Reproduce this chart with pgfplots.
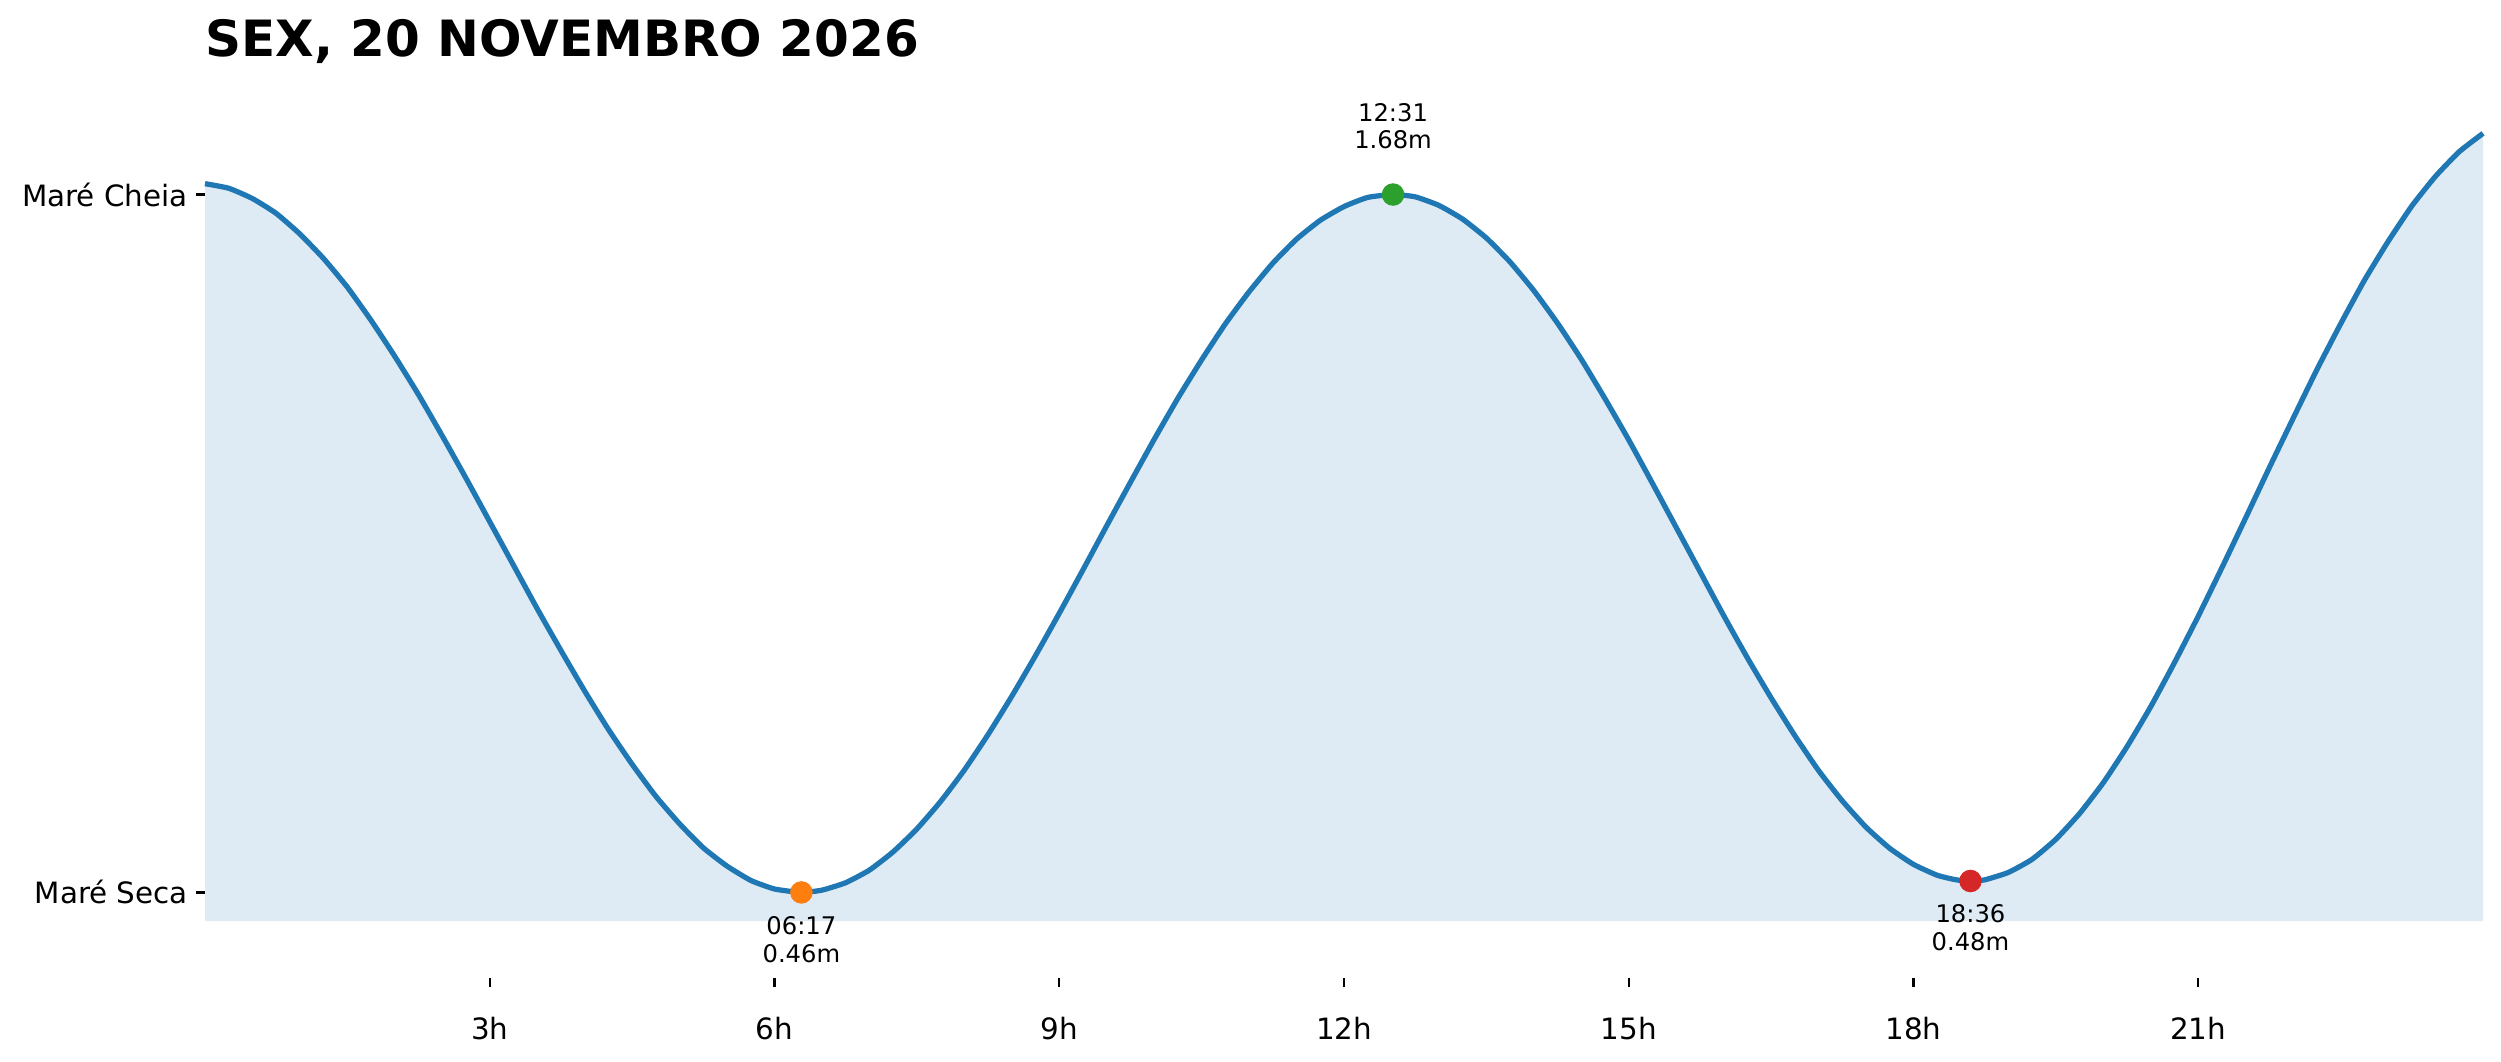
\documentclass[border=0pt]{standalone}
\usepackage{fontspec}
\setmainfont{DejaVu Sans}
\usepackage{pgfplots}
\pgfplotsset{compat=1.18}
\usepackage{pgfplotstable}
\usepgfplotslibrary{fillbetween}
\definecolor{tabblue}{HTML}{1F77B4}
\definecolor{taborange}{HTML}{FF7F0E}
\definecolor{tabgreen}{HTML}{2CA02C}
\definecolor{tabred}{HTML}{D62728}
\newcommand{\annfont}{\fontsize{9.7}{11}\selectfont}
\newcommand{\tickfont}{\fontsize{11.75}{13}\selectfont}
\newcommand{\titlefont}{\fontsize{20}{24}\selectfont\bfseries}

\pgfplotstableread{
t v
0 1.699
0.25 1.691
0.5 1.673
0.75 1.647
1 1.611
1.25 1.568
1.5 1.518
1.75 1.460
2 1.397
2.25 1.330
2.5 1.258
2.75 1.184
3 1.108
3.25 1.032
3.5 0.956
3.75 0.883
4 0.812
4.25 0.745
4.5 0.684
4.75 0.628
5 0.580
5.25 0.538
5.5 0.506
5.75 0.481
6 0.466
6.2833 0.460
6.5 0.464
6.75 0.477
7 0.499
7.25 0.531
7.5 0.571
7.75 0.619
8 0.674
8.25 0.736
8.5 0.803
8.75 0.874
9 0.948
9.25 1.024
9.5 1.101
9.75 1.177
10 1.252
10.25 1.324
10.5 1.391
10.75 1.454
11 1.510
11.25 1.560
11.5 1.602
11.75 1.635
12 1.659
12.25 1.675
12.5167 1.680
12.75 1.676
13 1.661
13.25 1.637
13.5 1.604
13.75 1.562
14 1.512
14.25 1.455
14.5 1.392
14.75 1.323
15 1.251
15.25 1.175
15.5 1.098
15.75 1.021
16 0.944
16.25 0.870
16.5 0.800
16.75 0.734
17 0.673
17.25 0.620
17.5 0.574
17.75 0.537
18 0.509
18.25 0.490
18.45 0.482
18.6 0.480
18.75 0.482
19 0.495
19.25 0.518
19.5 0.553
19.75 0.598
20 0.652
20.25 0.715
20.5 0.785
20.75 0.862
21 0.943
21.25 1.028
21.5 1.115
21.75 1.203
22 1.289
22.25 1.374
22.5 1.454
22.75 1.530
23 1.598
23.25 1.660
23.5 1.712
23.75 1.755
24 1.787
}\tidetable

\begin{document}
\begin{tikzpicture}
\begin{axis}[
  at={(0,0)}, anchor=south west,
  scale only axis, width=911.2pt, height=347.8pt,
  xmin=0, xmax=24, ymin=0.31, ymax=1.83,
  clip=false,
  axis line style={draw=none},
  tick align=outside, tick pos=left,
  major tick length=3.6pt,
  tick style={black, line width=0.9pt},
  xtick={3,6,9,12,15,18,21},
  xticklabels={3h,6h,9h,12h,15h,18h,21h},
  ytick={0.46,1.68},
  yticklabels={Maré Seca,Maré Cheia},
  tick label style={font=\tickfont, inner sep=0pt},
  xticklabel style={anchor=center, yshift=-16.4pt},
  yticklabel style={anchor=east, xshift=-3.1pt},
]
\addplot[name path=tide, draw=none, smooth, tension=0.3] table[x=t, y=v] {\tidetable};
\addplot[name path=base, draw=none] coordinates {(0,0.41) (24,0.41)};
\addplot[fill=tabblue, fill opacity=0.15, draw=none] fill between[of=tide and base];
\addplot[color=tabblue, line width=2.1pt, line join=round, smooth, tension=0.3] table[x=t, y=v] {\tidetable};
\addplot[only marks, mark=*, mark size=4.3pt, color=taborange] coordinates {(6.2833,0.46)};
\addplot[only marks, mark=*, mark size=4.3pt, color=tabgreen] coordinates {(12.5167,1.68)};
\addplot[only marks, mark=*, mark size=4.3pt, color=tabred] coordinates {(18.6,0.48)};
\node[font=\annfont, inner sep=0pt, yshift=32.6pt] at (axis cs:12.5167,1.68) {12:31};
\node[font=\annfont, inner sep=0pt, yshift=21.8pt] at (axis cs:12.5167,1.68) {1.68m};
\node[font=\annfont, inner sep=0pt, yshift=-13.2pt] at (axis cs:6.2833,0.46) {06:17};
\node[font=\annfont, inner sep=0pt, yshift=-24.4pt] at (axis cs:6.2833,0.46) {0.46m};
\node[font=\annfont, inner sep=0pt, yshift=-13.2pt] at (axis cs:18.6,0.48) {18:36};
\node[font=\annfont, inner sep=0pt, yshift=-24.4pt] at (axis cs:18.6,0.48) {0.48m};
\node[font=\titlefont, inner sep=0pt, anchor=base west, yshift=20.8pt] at (rel axis cs:0,1) {SEX, 20 NOVEMBRO 2026};
\end{axis}
\pgfresetboundingbox
\useasboundingbox (-82pt,-33.5pt) rectangle (918.4pt,391.3pt);
\end{tikzpicture}
\end{document}
